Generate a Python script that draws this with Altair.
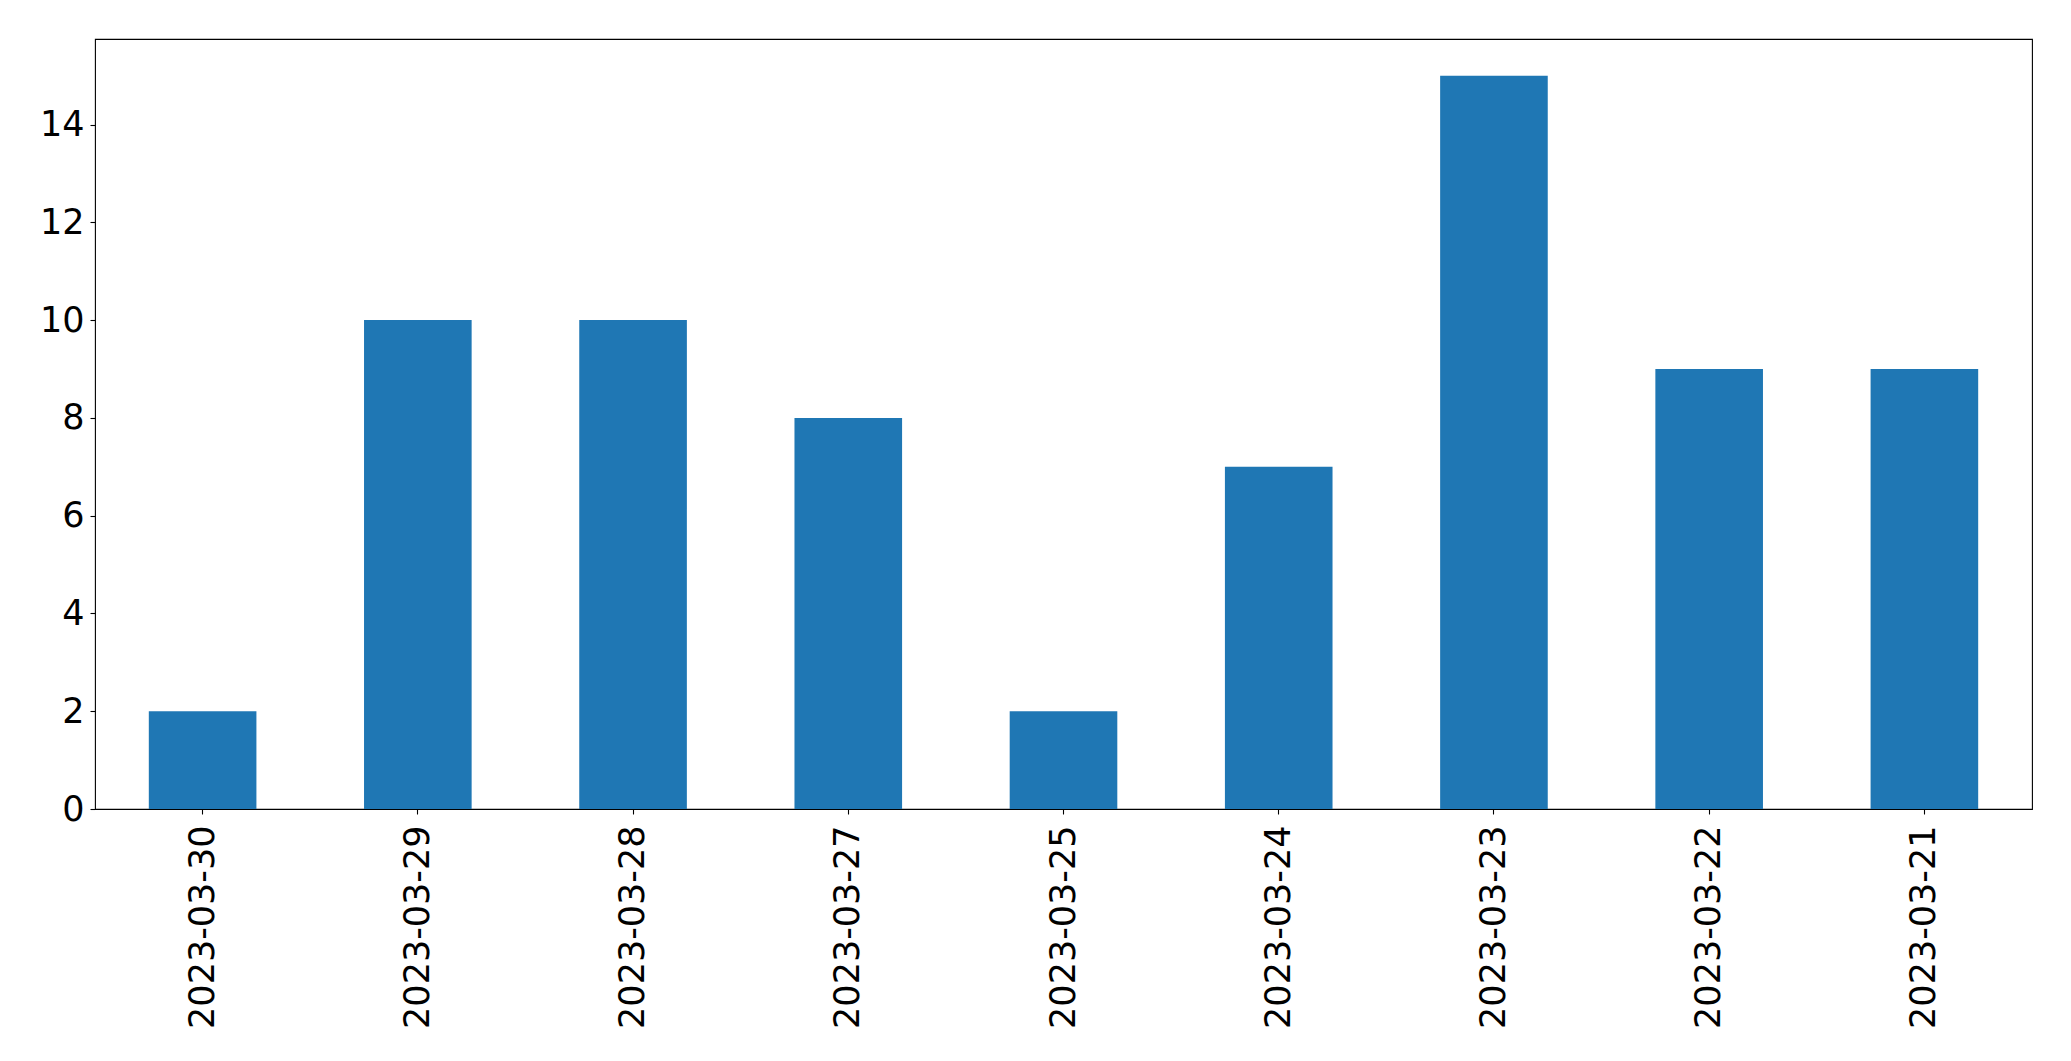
import altair as alt
import pandas as pd

dates = ["2023-03-30", "2023-03-29", "2023-03-28", "2023-03-27", "2023-03-25",
         "2023-03-24", "2023-03-23", "2023-03-22", "2023-03-21"]
counts = [2, 10, 10, 8, 2, 7, 15, 9, 9]

df = pd.DataFrame({"date": dates, "count": counts})

chart = alt.Chart(df).mark_bar(color="#1f77b4").encode(
    x=alt.X("date:N", sort=dates, title=None,
            scale=alt.Scale(paddingInner=0.5, paddingOuter=0.25),
            axis=alt.Axis(labelAngle=-90, labelFontSize=35, labelFont="DejaVu Sans",
                          labelColor="black", tickColor="black", tickSize=5,
                          tickWidth=1.1, labelPadding=11, labelLimit=500,
                          domain=False, grid=False)),
    y=alt.Y("count:Q", title=None,
            scale=alt.Scale(domain=[0, 15.75], nice=False, zero=True),
            axis=alt.Axis(values=[0, 2, 4, 6, 8, 10, 12, 14], labelFontSize=35,
                          labelFont="DejaVu Sans", labelColor="black",
                          tickColor="black", tickSize=5, tickWidth=1.1,
                          labelPadding=6, domain=False, grid=False)),
).properties(
    width=1937, height=770,
    background="white",
    autosize=alt.AutoSizeParams(type="none"),
    padding={"left": 87, "top": 31, "right": 31, "bottom": 240},
).configure_view(
    stroke="black", strokeWidth=1.1
)

chart.save("out.html", embed_options={"renderer": "svg", "actions": False})
